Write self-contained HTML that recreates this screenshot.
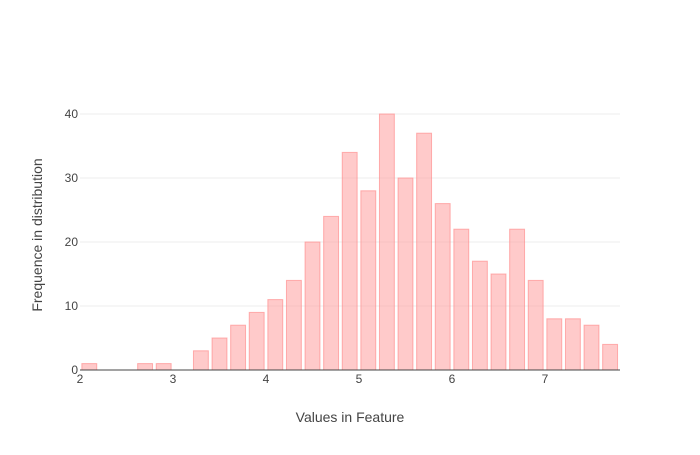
<!DOCTYPE html>
<html><head><meta charset="utf-8"><style>
body{margin:0;background:#fff;font-family:"Liberation Sans",sans-serif;}
svg text{font-family:"Liberation Sans",sans-serif;fill:#444;}
</style></head><body>
<svg id="chart" width="700" height="450">
<g id="grid"></g>
<g id="bars"></g>
<g id="axes"></g>
<text x="350" y="422" text-anchor="middle" font-size="14">Values in Feature</text>
<text x="42" y="235" text-anchor="middle" font-size="14" transform="rotate(-90 42 235)">Frequence in distribution</text>
</svg>
<script>
const binStarts=[2.0,2.2,2.4,2.6,2.8,3.0,3.2,3.4,3.6,3.8,4.0,4.2,4.4,4.6,4.8,5.0,5.2,5.4,5.6,5.8,6.0,6.2,6.4,6.6,6.8,7.0,7.2,7.4,7.6];
const counts=[1,0,0,1,1,0,3,5,7,9,11,14,20,24,34,28,40,30,37,26,22,17,15,22,14,8,8,7,4];
const xTicks=[2,3,4,5,6,7];
const yTicks=[0,10,20,30,40];
const binWidth=0.2;
const ns="http://www.w3.org/2000/svg";
const X=v=>80+(v-2)*93;
const Y=v=>370-v*6.4;
const grid=document.getElementById('grid'),bars=document.getElementById('bars'),axes=document.getElementById('axes');
function mk(tag,attrs,parent){const e=document.createElementNS(ns,tag);for(const k in attrs)e.setAttribute(k,attrs[k]);parent.appendChild(e);return e;}
yTicks.forEach(t=>{
  if(t>0){const l=mk('line',{x1:80,x2:620,y1:Y(t),y2:Y(t),stroke:'#eee','stroke-width':1},grid);
  
  }
  const tx=mk('text',{x:78,y:Y(t)+4,'text-anchor':'end','font-size':12},axes);tx.textContent=t;
  
  
});
xTicks.forEach(t=>{
  const tx=mk('text',{x:X(t),y:383,'text-anchor':'middle','font-size':12},axes);tx.textContent=t;
  
  
});
binStarts.forEach((b,i)=>{
  if(counts[i]<=0)return;
  const x0=X(b),w=X(b+binWidth)-x0,g=w*0.1;
  const r=mk('rect',{x:x0+g,y:Y(counts[i]),width:w-2*g,height:Y(0)-Y(counts[i]),fill:'rgba(255,150,150,0.5)',stroke:'rgba(255,130,130,0.6)','stroke-width':1},bars);
  
  
});
const ax=mk('line',{x1:80,x2:620,y1:370,y2:370,stroke:'#444','stroke-width':1},axes);


</script>
</body></html>
